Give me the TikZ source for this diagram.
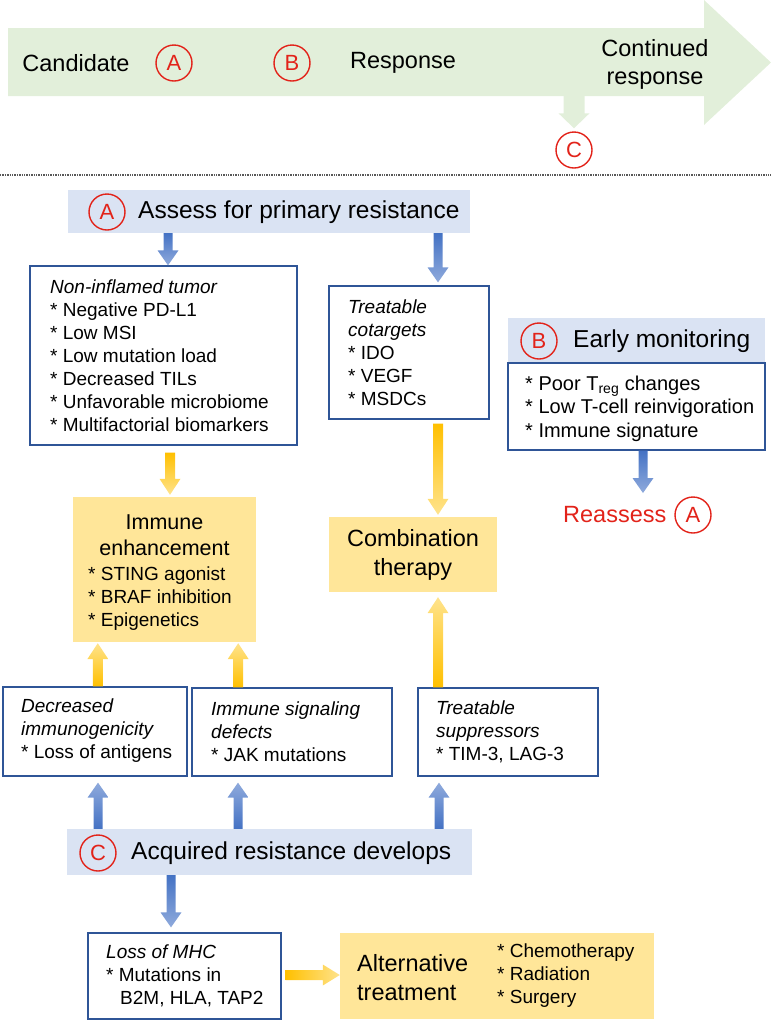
\documentclass[tikz,border=0pt]{standalone}
\usepackage{fontspec}
\setmainfont{Liberation Sans}
\usetikzlibrary{calc}
\definecolor{hdr}{HTML}{DAE3F3}
\definecolor{gr}{HTML}{E2EFDA}
\definecolor{yel}{HTML}{FFE699}
\definecolor{yelD}{HTML}{FFC000}
\definecolor{yelL}{HTML}{FFE38C}
\definecolor{bluD}{HTML}{4472C4}
\definecolor{bluL}{HTML}{8FAADC}
\definecolor{bord}{HTML}{2F5597}
\definecolor{myred}{HTML}{E2231A}
% vertical block arrow: [style]{from}{to}{half shaft}{half head}{head length}{sign}
\newcommand\vblock[7][]{\path[#1] let \p1=(#2), \p2=(#3) in
  (\x2-#4pt,\y1) -- (\x2+#4pt,\y1) -- (\x2+#4pt,\y2#7#6pt) -- (\x2+#5pt,\y2#7#6pt)
  -- (\x2,\y2) -- (\x2-#5pt,\y2#7#6pt) -- (\x2-#4pt,\y2#7#6pt) -- cycle;}
% horizontal block arrow to the right
\newcommand\hblock[6][]{\path[#1] let \p1=(#2), \p2=(#3) in
  (\x1,\y2+#4pt) -- (\x2-#6pt,\y2+#4pt) -- (\x2-#6pt,\y2+#5pt) -- (\x2,\y2)
  -- (\x2-#6pt,\y2-#5pt) -- (\x2-#6pt,\y2-#4pt) -- (\x1,\y2-#4pt) -- cycle;}
\tikzset{
  box/.style={draw=bord, line width=1.3pt, fill=white, inner sep=0pt},
  hdrbox/.style={fill=hdr, inner sep=0pt},
  ybox/.style={fill=yel, inner sep=0pt},
  txt/.style={inner sep=0pt, align=left, anchor=west, font=\fontsize{19}{23}\selectfont},
  big/.style={inner sep=0pt, anchor=west, font=\fontsize{24.5}{28}\selectfont},
  mid/.style={inner sep=0pt, align=center, font=\fontsize{23.5}{28}\selectfont},
  circ/.style={circle, draw=myred, line width=1.4pt, text=myred, minimum size=36pt,
    inner sep=0pt, font=\fontsize{22}{22}\selectfont},
  bdown/.style={top color=bluD, bottom color=bluL},
  bup/.style={top color=bluL, bottom color=bluD},
  ydown/.style={top color=yelD, bottom color=yelL},
  yup/.style={top color=yelL, bottom color=yelD},
  yright/.style={left color=yelD, right color=yelL},
  gfill/.style={fill=gr},
}
\begin{document}
\begin{tikzpicture}[x=1pt, y=-1pt]
\useasboundingbox (0,0) rectangle (771,1021);
% ---------- timeline arrow ----------
\fill[gr] (8,28) -- (704,28) -- (704,0) -- (771,62.5) -- (704,125) -- (704,96) -- (8,96) -- cycle;
\coordinate (gbot) at (572,96);
\node[mid] (cand) at (76,63) {Candidate};
\node[circ] (tA) at (174,63) {A};
\node[circ] (tB) at (292,63) {B};
\node[mid] (resp) at (403,63) {Response};
\node[mid] (cont) at (655,64) {Continued\\response};
\node[circ] (tC) at (574,150) {C};
\vblock[gfill]{gbot}{$(tC.north)+(0,-3)$}{10.5}{15.5}{15}{+}
\draw[gray!70!black, line width=1.3pt, dash pattern=on 1.3pt off 1.1pt] (0,175) -- (771,175);
% ---------- header A ----------
\node[hdrbox, minimum width=402pt, minimum height=43pt] (hA) at (269,211.5) {};
\node[circ] (cA) at (107,212) {A};
\node[big] (tAt) at (138,212) {Assess for primary resistance};
% non-inflamed
\node[box, minimum width=267pt, minimum height=179pt] (ninf) at (163.5,355.5) {};
\node[txt] (ninfT) at (50,355.5) {\textit{Non-inflamed tumor}\\* Negative PD-L1\\* Low MSI\\* Low mutation load\\* Decreased TILs\\* Unfavorable microbiome\\* Multifactorial biomarkers};
% cotargets
\node[box, minimum width=160pt, minimum height=133pt] (cot) at (409,352.5) {};
\node[txt] (cotT) at (348,352.5) {\textit{Treatable}\\\textit{cotargets}\\* IDO\\* VEGF\\* MSDCs};
% early monitoring
\node[hdrbox, minimum width=257pt, minimum height=45pt] (hB) at (636.5,340.5) {};
\node[circ] (cB) at (539,341) {B};
\node[big] (hBt) at (573,341) {Early monitoring};
\node[box, minimum width=257pt, minimum height=87pt] (mon) at (636.5,406.5) {};
\node[txt, font=\fontsize{20}{23.5}\selectfont] (monT) at (525,408.5) {* Poor T\textsubscript{reg} changes\\* Low T-cell reinvigoration\\* Immune signature};
\coordinate (reasTip) at (643,493);
\node[mid, anchor=west, text=myred] (reas) at (563,515) {Reassess};
\node[circ] (rA) at (693,515) {A};
% immune enhancement
\node[ybox, minimum width=183pt, minimum height=145pt] (eh) at (164.5,569.5) {};
\node[inner sep=0pt, align=center, font=\fontsize{21.5}{26}\selectfont] (ehT) at (164.5,535) {Immune\\enhancement};
\node[txt, font=\fontsize{19}{23}\selectfont] (ehB) at (88,599) {* STING agonist\\* BRAF inhibition\\* Epigenetics};
% combination therapy
\node[ybox, minimum width=168pt, minimum height=75pt, align=center,
  font=\fontsize{23.5}{29}\selectfont] (comb) at (413,554.5) {Combination\\therapy};
% resistance boxes
\node[box, minimum width=184pt, minimum height=89pt] (dec) at (95,731.5) {};
\node[txt] (decT) at (21,731) {\textit{Decreased}\\\textit{immunogenicity}\\* Loss of antigens};
\node[box, minimum width=200pt, minimum height=88pt] (sig) at (292,732) {};
\node[txt] (sigT) at (211,731.5) {\textit{Immune signaling}\\\textit{defects}\\* JAK mutations};
\node[box, minimum width=180pt, minimum height=88pt] (sup) at (508,732) {};
\node[txt] (supT) at (436,732) {\textit{Treatable}\\\textit{suppressors}\\* TIM-3, LAG-3};
% header C
\node[hdrbox, minimum width=405pt, minimum height=46pt] (hC) at (269.5,852) {};
\node[circ] (cC) at (98,853) {C};
\node[big] (hCt) at (131,853) {Acquired resistance develops};
% loss of MHC
\node[box, minimum width=193pt, minimum height=86pt] (loss) at (184.5,976) {};
\node[txt] (lossT) at (106,975.5) {\textit{Loss of MHC}\\* Mutations in\\\hspace*{14pt}B2M, HLA, TAP2};
% alternative
\node[ybox, minimum width=314pt, minimum height=86pt] (alt) at (497,976) {};
\node[txt, font=\fontsize{23.5}{29}\selectfont] (altT) at (357,977.5) {Alternative\\treatment};
\node[txt] (altB) at (497,975.5) {* Chemotherapy\\* Radiation\\* Surgery};
% ---------- block arrows ----------
\vblock[bdown]{hA.south}{$(ninf.north)+(4.5,0)$}{4.5}{10.5}{15}{+}
\vblock[bdown]{hA.south}{$(cot.north)+(29,-3)$}{4.5}{10.5}{15}{+}
\vblock[bdown]{mon.south}{reasTip}{4.5}{10.5}{15}{+}
\vblock[ydown]{$(ninf.south)+(0,7)$}{$(eh.north)+(5.5,-2)$}{5}{10.5}{16}{+}
\vblock[ydown]{$(cot.south)+(0,4)$}{$(comb.north)+(25,-2)$}{5}{10.5}{16}{+}
\vblock[yup]{dec.north}{$(eh.south west)+(25,1)$}{5}{10.5}{16}{-}
\vblock[yup]{sig.north}{$(eh.south east)+(-18,1)$}{5}{10.5}{16}{-}
\vblock[yup]{sup.north}{$(comb.south)+(25,5)$}{5}{10.5}{16}{-}
\vblock[bup]{hC.north}{$(dec.south)+(3,6)$}{4.5}{10.5}{15}{-}
\vblock[bup]{hC.north}{$(sig.south)+(-54,6)$}{4.5}{10.5}{15}{-}
\vblock[bup]{hC.north}{$(sup.south)+(-69,6)$}{4.5}{10.5}{15}{-}
\vblock[bdown]{hC.south}{$(loss.north)+(-13.5,-5)$}{4.5}{10.5}{15}{+}
\hblock[yright]{$(loss.east)+(4,0)$}{$(alt.west)+(0,-1)$}{5}{10.5}{17}
\end{tikzpicture}
\end{document}
